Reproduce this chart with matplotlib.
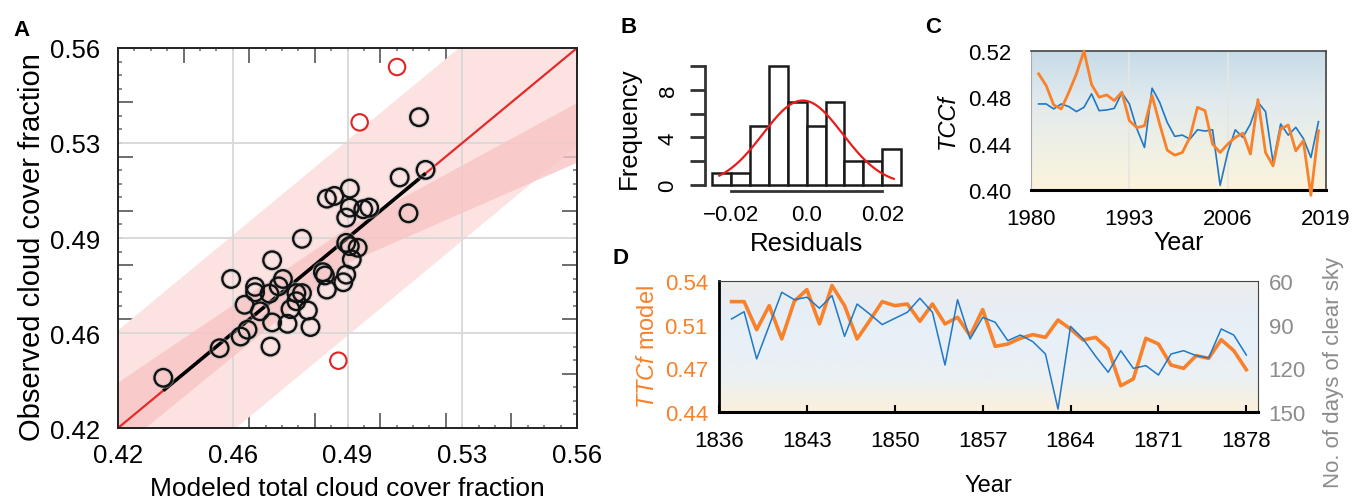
import numpy as np
import matplotlib.pyplot as plt
from matplotlib.colors import LinearSegmentedColormap

plt.rcParams['font.family'] = ['Liberation Sans', 'DejaVu Sans']
plt.rcParams['mathtext.fontset'] = 'custom'
plt.rcParams['mathtext.it'] = 'Liberation Sans:italic'
plt.rcParams['mathtext.rm'] = 'Liberation Sans'

# ---- panel A: modeled vs observed cloud cover ----
mod_x = [0.4338, 0.4510, 0.4545, 0.4574, 0.4595, 0.4586, 0.4618, 0.4618, 0.4633,
         0.4665, 0.4670, 0.4662, 0.4670, 0.4703, 0.4717, 0.4726, 0.4744, 0.4744,
         0.4761, 0.4761, 0.4779, 0.4787, 0.4825, 0.4831, 0.4837, 0.4837, 0.4860,
         0.4887, 0.4896, 0.4907, 0.4896, 0.4907, 0.4896, 0.4907, 0.4931, 0.4913,
         0.4948, 0.4966, 0.5059, 0.5086, 0.5118, 0.5138, 0.4690]
obs_y = [0.4385, 0.4494, 0.4749, 0.4537, 0.4562, 0.4654, 0.4720, 0.4700, 0.4630,
         0.4500, 0.4589, 0.4695, 0.4818, 0.4749, 0.4584, 0.4638, 0.4667, 0.4697,
         0.4697, 0.4897, 0.4633, 0.4572, 0.4774, 0.4762, 0.4710, 0.5045, 0.5055,
         0.4737, 0.4765, 0.5082, 0.4975, 0.5012, 0.4882, 0.4870, 0.4864, 0.4821,
         0.5006, 0.5012, 0.5123, 0.4991, 0.5345, 0.5151, 0.4722]
out_x = [0.5051, 0.4937, 0.4872]
out_y = [0.5530, 0.5326, 0.4448]
pred_half = 0.036           # half width of the outer (prediction) band
conf_x = [0.42, 0.49, 0.56]
conf_lo = [0.412, 0.481, 0.518]
conf_hi = [0.437, 0.494, 0.540]

# ---- panel B: residual histogram ----
bin_edges = [-0.025, -0.02, -0.015, -0.01, -0.005, 0.0, 0.005, 0.01, 0.015, 0.02, 0.025]
bin_counts = [1, 1, 5, 10, 7, 5, 7, 2, 2, 3]
res_mean, res_sd, res_peak = -0.001, 0.0105, 7.1

# ---- panel C: TCCf 1981-2018 ----
years_c = list(range(1981, 2019))
tccf_obs = [0.4743, 0.4743, 0.4700, 0.4743, 0.4720, 0.4677, 0.4714, 0.4830, 0.4685,
            0.4691, 0.4705, 0.4839, 0.4743, 0.4526, 0.4367, 0.4879, 0.4758, 0.4584,
            0.4463, 0.4474, 0.4439, 0.4520, 0.4509, 0.4520, 0.4040, 0.4324, 0.4520,
            0.4454, 0.4570, 0.4758, 0.4677, 0.4237, 0.4570, 0.4474, 0.4541, 0.4445,
            0.4280, 0.4590]
tccf_mod = [0.5003, 0.4902, 0.4734, 0.4700, 0.4844, 0.5003, 0.5200, 0.4911, 0.4801,
            0.4821, 0.4772, 0.4844, 0.4598, 0.4538, 0.4555, 0.4815, 0.4570, 0.4344,
            0.4301, 0.4324, 0.4454, 0.4714, 0.4685, 0.4396, 0.4324, 0.4396, 0.4454,
            0.4491, 0.4310, 0.4781, 0.4324, 0.4208, 0.4526, 0.4561, 0.4338, 0.4425,
            0.3954, 0.4512]

# ---- panel D: 1837-1878 ----
years_d = list(range(1837, 1879))
ttcf_model = [0.5244, 0.5244, 0.5029, 0.5213, 0.4958, 0.5247, 0.5336, 0.5073, 0.5367,
              0.5213, 0.4958, 0.5098, 0.5244, 0.5213, 0.5226, 0.5093, 0.5226, 0.5073,
              0.5124, 0.4983, 0.5183, 0.4901, 0.4919, 0.4963, 0.4991, 0.4970, 0.5103,
              0.5034, 0.4950, 0.4970, 0.4881, 0.4599, 0.4651, 0.4963, 0.4919, 0.4758,
              0.4732, 0.4830, 0.4809, 0.4952, 0.4868, 0.4722]
clear_days = [86.0, 81.0, 113.6, 90.6, 67.6, 72.7, 71.0, 78.6, 69.9, 98.0, 75.7, 82.6,
              89.9, 85.6, 81.4, 71.7, 81.4, 117.8, 72.7, 99.8, 84.9, 88.3, 101.0, 97.1,
              101.7, 110.2, 148.2, 91.1, 99.8, 111.8, 122.8, 107.9, 120.1, 118.2, 124.7,
              110.2, 107.9, 111.3, 112.9, 92.9, 97.1, 110.9]

ORANGE = '#f8812a'
BLUE = '#1f78c8'
GRAY = '#8c8c8c'

fig = plt.figure(figsize=(13.52, 5.02), dpi=100)


def gradient(ax, colors):
    # colors listed bottom -> top
    cmap = LinearSegmentedColormap.from_list('bg', colors)
    ax.imshow(np.linspace(0, 1, 256).reshape(-1, 1), cmap=cmap, aspect='auto', origin='lower',
              extent=[0, 1, 0, 1], transform=ax.transAxes, zorder=0)


# ================= A =================
ax = fig.add_axes([0.0873, 0.1454, 0.3395, 0.757])
lim = (0.42, 0.56)
xx = np.array(lim)
ax.fill_between(xx, xx - pred_half, xx + pred_half, color='#fde2e2', lw=0, zorder=1)
ax.fill_between(conf_x, conf_lo, conf_hi, color='#f8c4c4', lw=0, alpha=0.8, zorder=1.5)
for g in (0.455, 0.49, 0.525):
    ax.axvline(g, color='#d8d8d8', lw=1.3, zorder=1.2)
    ax.axhline(g, color='#d8d8d8', lw=1.3, zorder=1.2)
ax.plot(xx, xx, color='#e52a2a', lw=1.6, zorder=2)
seg = np.array([min(mod_x), max(mod_x)])
ax.plot(seg, seg, color='black', lw=2.6, zorder=3, solid_capstyle='butt')
ax.scatter(mod_x, obs_y, s=160, facecolors='none', edgecolors='#bbbbbb', linewidths=3.5,
           alpha=0.45, zorder=3.5)
ax.scatter(mod_x, obs_y, s=160, facecolors='none', edgecolors='#111111', linewidths=1.7,
           zorder=4)
ax.scatter(out_x, out_y, s=140, facecolors='none', edgecolors='#e02424', linewidths=1.5,
           zorder=4)
ax.set_xlim(lim)
ax.set_ylim(lim)
ticks = [0.42, 0.455, 0.49, 0.525, 0.56]
labs = ['0.42', '0.46', '0.49', '0.53', '0.56']
ax.set_xticks(ticks, labs)
ax.set_yticks(ticks, labs)
ax.tick_params(length=0, labelsize=18.5)
ax.tick_params(axis='x', pad=11)
ax.tick_params(axis='y', pad=13)
for sp in ax.spines.values():
    sp.set_color('#222222')
    sp.set_linewidth(1.4)
ax.set_xlabel('Modeled total cloud cover fraction', fontsize=19, labelpad=6)
ax.set_ylabel('Observed cloud cover fraction', fontsize=21, labelpad=3)
ax.yaxis.label.set_position((0, 0.48))
# inward tick marks on all four sides
for loc in ('top', 'bottom'):
    sec = ax.secondary_xaxis(loc)
    sec.set_xticks(np.arange(0.44, 0.561, 0.02))
    sec.set_xticks(np.arange(0.425, 0.56, 0.005), minor=True)
    sec.tick_params(which='major', direction='in', length=11, width=1.2, color='#555555',
                    labelbottom=False, labeltop=False)
    sec.tick_params(which='minor', direction='in', length=2.5, width=1.2, color='#777777')
    sec.spines[loc].set_visible(False)
for loc in ('left', 'right'):
    sec = ax.secondary_yaxis(loc)
    sec.set_yticks(np.arange(0.44, 0.561, 0.02))
    sec.set_yticks(np.arange(0.425, 0.56, 0.005), minor=True)
    sec.tick_params(which='major', direction='in', length=11, width=1.2, color='#555555',
                    labelleft=False, labelright=False)
    sec.tick_params(which='minor', direction='in', length=3, width=1.2, color='#777777')
    sec.spines[loc].set_visible(False)

# ================= B =================
axb = fig.add_axes([0.5214, 0.6175, 0.1509, 0.2538])
widths = np.diff(bin_edges)
axb.bar(bin_edges[:-1], bin_counts, width=widths, align='edge', color='white',
        edgecolor='#1a1a1a', linewidth=1.8, zorder=2)
cx = np.linspace(-0.023, 0.023, 200)
cy = res_peak * np.exp(-0.5 * ((cx - res_mean) / res_sd) ** 2)
axb.plot(cx, cy, color='#e81c1c', lw=1.6, zorder=3)
axb.set_xlim(-0.0268, 0.027)
axb.set_ylim(-0.5, 10.2)
for s in ('top', 'right'):
    axb.spines[s].set_visible(False)
axb.spines['left'].set_bounds(0, 10)
axb.spines['bottom'].set_bounds(-0.02, 0.02)
for s in ('left', 'bottom'):
    axb.spines[s].set_linewidth(2)
    axb.spines[s].set_color('#333333')
axb.set_yticks([0, 2, 4, 6, 8, 10], ['0', '', '4', '', '8', ''])
axb.set_xticks([-0.02, -0.01, 0.0, 0.01, 0.02], ['\u22120.02', '', '0.0', '', '0.02'])
axb.tick_params(axis='y', length=11, width=2, color='#333333', labelsize=16,
                labelrotation=90, pad=8)
axb.tick_params(axis='x', length=0, labelsize=16, pad=9)
for lab in axb.get_yticklabels():
    lab.set_va('center')
axb.set_xlabel('Residuals', fontsize=18.5, labelpad=5)
axb.set_ylabel('Frequency', fontsize=18.5, labelpad=12)

# ================= C =================
axc = fig.add_axes([0.7626, 0.6195, 0.2182, 0.2769])
gradient(axc, ['#fcf3dc', '#eef0e6', '#dfe9ee', '#c6dbe7'])
axc.plot(years_c, tccf_obs, color=BLUE, lw=1.2, zorder=3)
axc.plot(years_c, tccf_mod, color=ORANGE, lw=2.0, zorder=4, clip_on=False)
axc.set_xlim(1980, 2019)
axc.set_ylim(0.40, 0.52)
axc.set_xticks([1980, 1993, 2006, 2019])
axc.set_yticks([0.40, 0.44, 0.48, 0.52])
axc.tick_params(length=0, labelsize=16)
axc.tick_params(axis='x', pad=13)
axc.tick_params(axis='y', pad=14)
for x in (1993, 2006):
    axc.axvline(x, color='#e6e6e0', lw=1.2, zorder=1)
axc.spines['bottom'].set_linewidth(2.2)
axc.spines['bottom'].set_color('black')
axc.spines['left'].set_color('#aaaaaa')
for s in ('top', 'right'):
    axc.spines[s].set_color('#444444')
    axc.spines[s].set_linewidth(1.2)
axc.set_xlabel('Year', fontsize=18, labelpad=1)
axc.set_ylabel('TCCf', fontsize=17, style='italic', labelpad=7)

# ================= D =================
axd = fig.add_axes([0.5318, 0.1779, 0.3984, 0.2598])
gradient(axd, ['#fbf1dc', '#ecf0f2', '#e8f0f8', '#e6eef6', '#ececec'])
axd.plot(years_d, ttcf_model, color=ORANGE, lw=2.6, zorder=4)
axd.set_xlim(1836, 1878.9)
axd.set_ylim(0.44, 0.54)
axd.set_yticks([0.44, 0.44 + 0.1 / 3, 0.44 + 0.2 / 3, 0.54], ['0.44', '0.47', '0.51', '0.54'])
axd.set_xticks(range(1836, 1879, 7))
axd.tick_params(axis='y', length=0, labelsize=16, labelcolor=ORANGE, pad=8)
axd.tick_params(axis='x', direction='in', length=5, width=1.5, labelsize=16, pad=13)
axd.spines['bottom'].set_linewidth(2.2)
axd.spines['left'].set_linewidth(2.0)
axd.spines['top'].set_color('#444444')
axd.spines['right'].set_color('#444444')
axd.set_xlabel('Year', fontsize=17, labelpad=17)
axd.set_ylabel(r'$\it{TTCf}$ model', fontsize=17, color=ORANGE, labelpad=4)
axd2 = axd.twinx()
axd2.plot(years_d, clear_days, color=BLUE, lw=1.1, zorder=3)
axd2.set_ylim(150, 60)
axd2.set_yticks([60, 90, 120, 150])
axd2.tick_params(length=0, labelsize=16, labelcolor=GRAY, pad=8)
axd2.set_ylabel('No. of days of clear sky', fontsize=16, color=GRAY, labelpad=12)
axd2.yaxis.label.set_position((0, 0.31))
for s in axd2.spines.values():
    s.set_visible(False)

# panel letters
for t, x, y in (('A', 0.010, 0.94), ('B', 0.459, 0.946), ('C', 0.684, 0.946), ('D', 0.453, 0.485)):
    fig.text(x, y, t, fontsize=16, fontweight='bold', va='center', ha='left')

fig.savefig('out.png', dpi=100)
